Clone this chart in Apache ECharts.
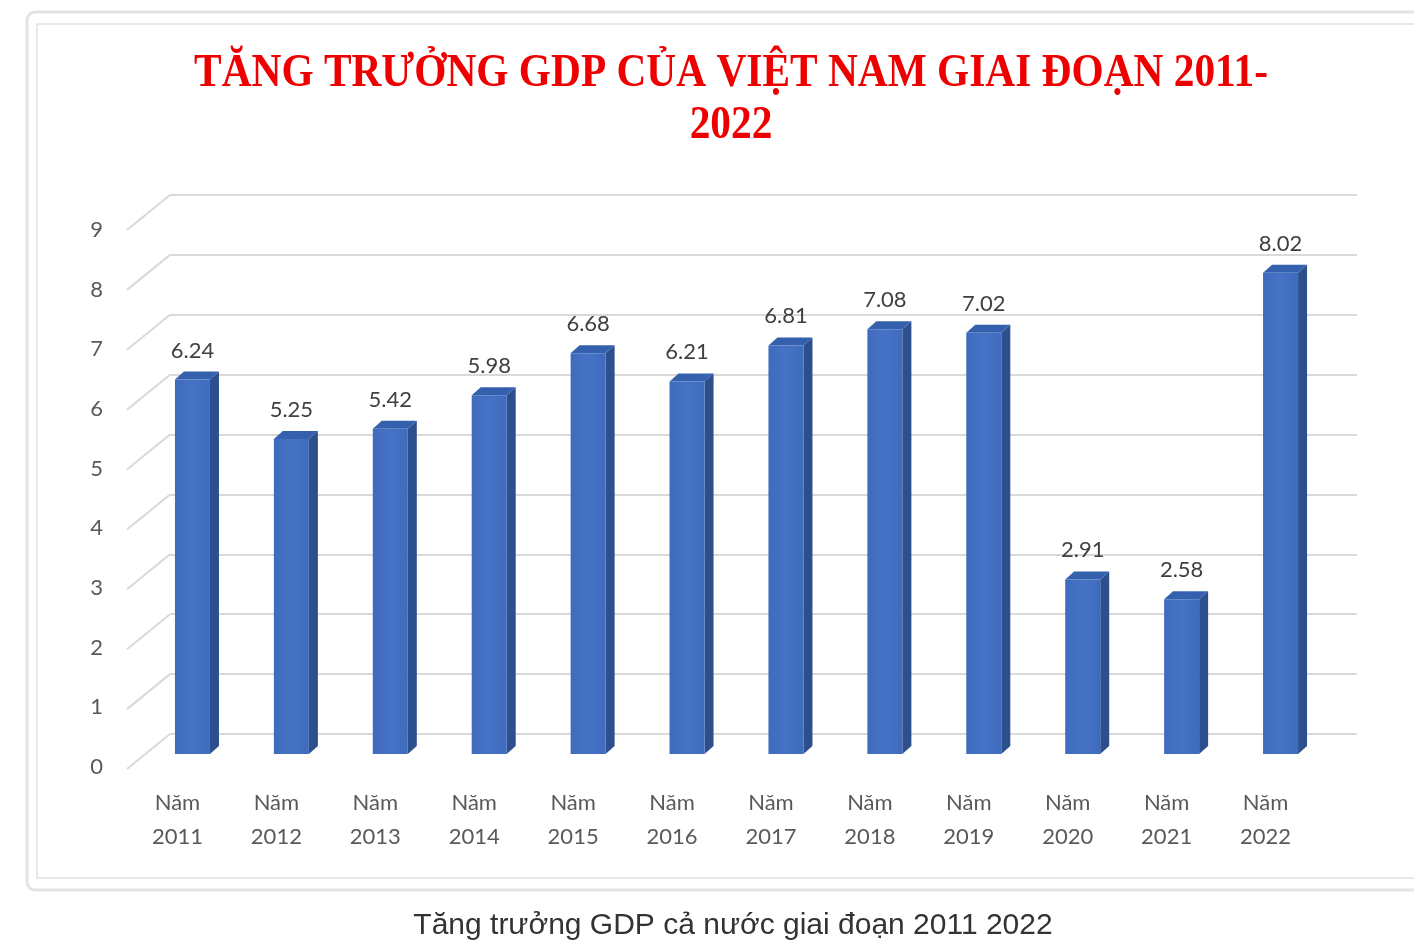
<!DOCTYPE html>
<html>
<head>
<meta charset="utf-8">
<script src="https://cdn.jsdelivr.net/npm/echarts@6/dist/echarts.min.js"></script>
<style>
html,body{margin:0;padding:0;background:#fff;}
#chart{width:1414px;height:940px;}
</style>
</head>
<body>
<div id="chart"></div>
<script>
var categories = ['Năm\n2011','Năm\n2012','Năm\n2013','Năm\n2014','Năm\n2015','Năm\n2016','Năm\n2017','Năm\n2018','Năm\n2019','Năm\n2020','Năm\n2021','Năm\n2022'];
var gdpGrowth = [6.24, 5.25, 5.42, 5.98, 6.68, 6.21, 6.81, 7.08, 7.02, 2.91, 2.58, 8.02];
var yTicks = [0,1,2,3,4,5,6,7,8,9];
var titleLine1 = 'TĂNG TRƯỞNG GDP CỦA VIỆT NAM GIAI ĐOẠN 2011-';
var titleLine2 = '2022';
var caption = 'Tăng trưởng GDP cả nước giai đoạn 2011 2022';

var chart = echarts.init(document.getElementById('chart'), null, {renderer:'canvas'});

var DX = 9, DY = 8;

var option = {
  backgroundColor:'#ffffff',
  animation:false,
  grid:[
    {left:170, right:57, top:195, bottom:206},   // back wall
    {left:143, right:84, top:214, bottom:186},   // bar front plane
    {left:125, right:84, top:230, bottom:173},   // y labels
    {left:128, right:99, top:214, bottom:186}    // x labels
  ],
  xAxis:[
    {gridIndex:0, type:'value', min:0, max:1, show:false},
    {gridIndex:1, type:'category', data:categories, show:false},
    {gridIndex:2, type:'value', min:0, max:1, show:false},
    {gridIndex:3, type:'category', data:categories,
      axisLine:{show:false}, axisTick:{show:false},
      axisLabel:{margin:32, fontSize:22, lineHeight:34, color:'#595959', fontFamily:'Lato', interval:0}}
  ],
  yAxis:[
    {gridIndex:0, type:'value', min:0, max:9, interval:1,
      axisLabel:{show:false}, axisLine:{show:false}, axisTick:{show:false},
      splitLine:{show:true, lineStyle:{color:'#d9d9d9', width:2}}},
    {gridIndex:1, type:'value', min:0, max:9, interval:1, show:false, splitLine:{show:false}},
    {gridIndex:2, type:'value', min:0, max:9, interval:1,
      axisLine:{show:false}, axisTick:{show:false}, splitLine:{show:false},
      axisLabel:{margin:22, fontSize:22, color:'#595959', fontFamily:'Lato'}},
    {gridIndex:3, type:'value', min:0, max:9, show:false, splitLine:{show:false}}
  ],
  series:[
    {
      type:'custom', xAxisIndex:0, yAxisIndex:0, silent:true,
      data: yTicks.map(function(v){return [0, v];}),
      renderItem:function(params, api){
        var p = api.coord([0, api.value(1)]);
        return {type:'line', shape:{x1:p[0], y1:p[1], x2:p[0]-43, y2:p[1]+35},
          style:{stroke:'#d9d9d9', lineWidth:2}};
      }
    },
    {
      type:'custom', xAxisIndex:1, yAxisIndex:1, silent:true,
      data: gdpGrowth.map(function(v,i){return [i, v];}),
      renderItem:function(params, api){
        var i = api.value(0), v = api.value(1);
        var top = api.coord([i, v]);
        var base = api.coord([i, 0]);
        var band = api.size([1, 0])[0];
        var w = band*0.354;
        var x0 = top[0]-w/2, x1 = top[0]+w/2, yt = top[1], yb = base[1];
        return {type:'group', children:[
          {type:'polygon', shape:{points:[[x1,yt],[x1+DX,yt-DY],[x1+DX,yb-DY],[x1,yb]]},
            style:{fill:'#2d4f8e'}},
          {type:'polygon', shape:{points:[[x0,yt],[x1,yt],[x1+DX,yt-DY],[x0+DX,yt-DY]]},
            style:{fill:'#3560ad'}},
          {type:'rect', shape:{x:x0, y:yt, width:w, height:yb-yt},
            style:{fill:new echarts.graphic.LinearGradient(0,0,1,0,[
              {offset:0,color:'#3f6bbd'},{offset:0.5,color:'#4673c6'},{offset:1,color:'#3f6bbd'}])}},
          {type:'text', style:{text:v.toFixed(2), x:top[0], y:yt-29, align:'center', verticalAlign:'middle',
            fontSize:22, fontFamily:'Lato', fill:'#404040'}}
        ]};
      }
    }
  ],
  graphic:[
    {type:'rect', shape:{x:27, y:12, width:1420, height:878, r:8},
      style:{fill:'none', stroke:'#e4e4e4', lineWidth:3}, z:-10},
    {type:'rect', shape:{x:37, y:24, width:1420, height:854},
      style:{fill:'none', stroke:'#e8e8e8', lineWidth:2}, z:-10},
    {type:'text', x:731, y:74, scaleX:0.88,
      style:{text:titleLine1, align:'center', verticalAlign:'middle',
        font:'bold 47px "Liberation Serif"', fill:'#ee0000',
        shadowBlur:2, shadowColor:'rgba(160,0,0,0.5)'}},
    {type:'text', x:731, y:126, scaleX:0.88,
      style:{text:titleLine2, align:'center', verticalAlign:'middle',
        font:'bold 47px "Liberation Serif"', fill:'#ee0000',
        shadowBlur:2, shadowColor:'rgba(160,0,0,0.5)'}},
    {type:'text', x:733, y:926,
      style:{text:caption, align:'center', verticalAlign:'middle',
        font:'30px "Liberation Sans"', fill:'#333333'}}
  ]
};
chart.setOption(option);
</script>
</body>
</html>
